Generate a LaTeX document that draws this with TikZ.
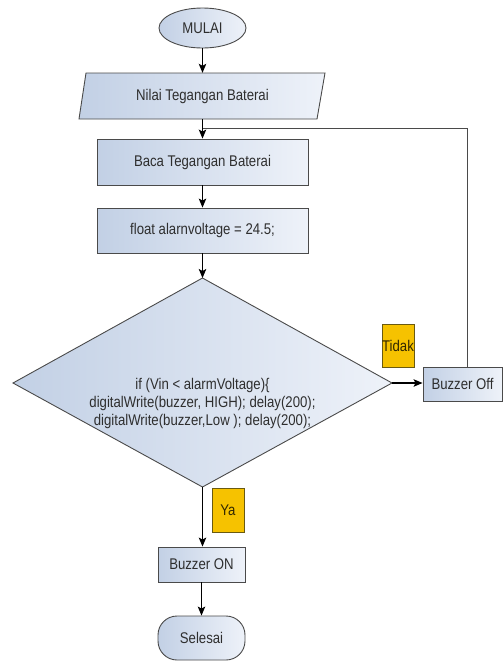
\documentclass[tikz,border=0pt]{standalone}
\usepackage{fontspec}
\setmainfont{Liberation Sans}[FakeStretch=0.85]
\usetikzlibrary{arrows.meta,shapes.geometric}
\definecolor{bdr}{HTML}{4A4A4A}
\definecolor{txt}{HTML}{2E2E2E}
\definecolor{fillL}{HTML}{C2D0E5}
\definecolor{fillR}{HTML}{EEF2F9}
\definecolor{lblfill}{HTML}{F6C200}
\definecolor{lbldraw}{HTML}{6A5A10}
\tikzset{
  base/.style={font=\fontsize{15.5}{18}\selectfont, text=txt, inner sep=0pt},
  shapefill/.style={draw=bdr, line width=0.9pt, left color=fillL, right color=fillR},
  procbox/.style={base, shapefill, rectangle, minimum width=#1},
  termnode/.style={base, shapefill, ellipse, minimum width=87pt, minimum height=40pt},
  endnode/.style={base, shapefill, rectangle, rounded corners=19pt, minimum width=87pt, minimum height=44pt},
  lblnode/.style={base, draw=lbldraw, line width=0.8pt, fill=lblfill, text=black!80!lblfill, minimum width=32pt},
  arr/.style={draw=black, line width=1.1pt, -{Stealth[length=9pt, width=7.5pt, inset=2pt]}},
  loopline/.style={draw=bdr, line width=0.9pt}
}
\begin{document}
\begin{tikzpicture}[x=1pt,y=-1pt]
\useasboundingbox[fill=white] (0,0) rectangle (503,662);

% start
\node[termnode] (start) at (202.5,28) {MULAI};

% input parallelogram
\path[shapefill] (86,73) -- (325,73) -- (317,119) -- (79,119) -- cycle;
\node[base, minimum width=230pt, minimum height=46pt] (in) at (202.5,96) {Nilai Tegangan Baterai};

% process boxes
\node[procbox=211pt, minimum height=46pt] (read) at (202.5,162) {Baca Tegangan Baterai};
\node[procbox=211pt, minimum height=45pt] (flt) at (202.5,230.5) {float alarnvoltage = 24.5;};

% decision diamond
\path[shapefill] (202.5,278) coordinate (dtop) -- (392,383) coordinate (dright)
  -- (202.5,487) coordinate (dbot) -- (13,383) coordinate (dleft) -- cycle;
\node[base, align=center] (dtext) at (202.5,403)
  {if (Vin < alarmVoltage)\{\\digitalWrite(buzzer, HIGH); delay(200);\\digitalWrite(buzzer,Low ); delay(200);};

% buzzer off
\node[procbox=79pt, minimum height=34pt] (off) at (462.5,384) {Buzzer Off};
\node[lblnode, minimum height=43pt] (tidak) at (398,345.5) {Tidak};

% yes branch
\node[lblnode, minimum height=44pt] (ya) at (228,510) {Ya};
\node[procbox=87pt, minimum height=35pt] (on) at (201.5,564.5) {Buzzer ON};
\node[endnode] (stop) at (201.5,638) {Selesai};

% connectors
\draw[arr] (start.south) -- (in.north);
\draw[arr] (in.south) -- (read.north);
\draw[arr] (read.south) -- (flt.north);
\draw[arr] (flt.south) -- (dtop);
\draw[arr] (dright) -- (dright -| off.west);
\coordinate (lp) at (467,128);
\coordinate (jn) at (202.5,128);
\draw[loopline] (off.north -| lp) -- (lp) -- (jn);
\draw[arr] (dbot) -- (dbot |- on.north);
\draw[arr] (on.south) -- (stop.north);
\end{tikzpicture}
\end{document}
